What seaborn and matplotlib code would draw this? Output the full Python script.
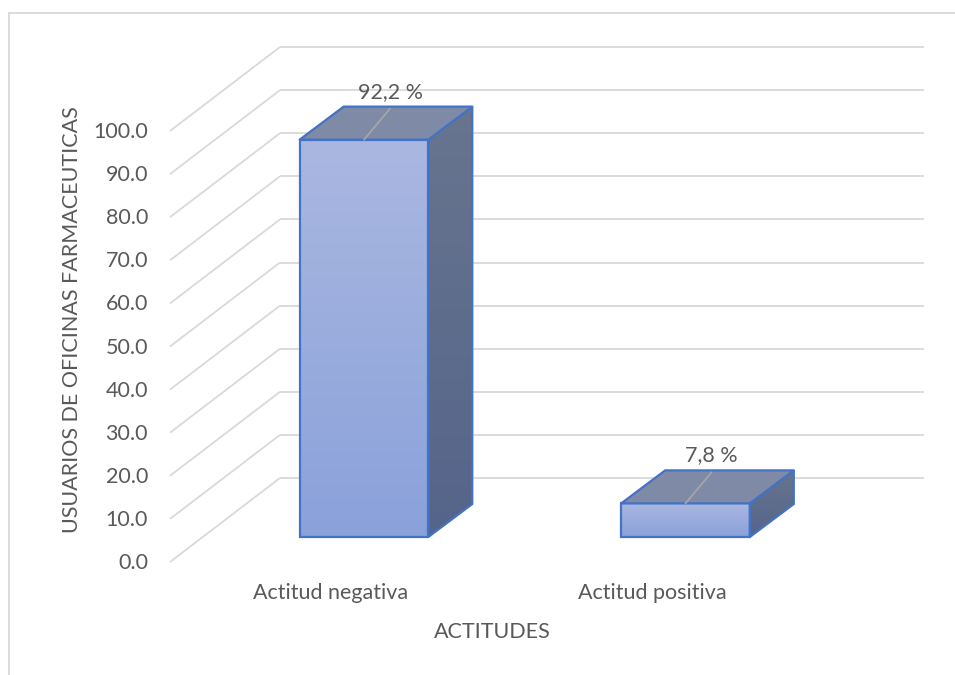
import numpy as np
import pandas as pd
import matplotlib
matplotlib.use("Agg")
import matplotlib.pyplot as plt
import seaborn as sns
from matplotlib.patches import Polygon
from matplotlib.colors import LinearSegmentedColormap

# ---- data ----
categories = ["Actitud negativa", "Actitud positiva"]
values = [92.2, 7.8]
value_labels = ["92,2 %", "7,8 %"]
y_ticks = [0, 10, 20, 30, 40, 50, 60, 70, 80, 90, 100]
y_tick_labels = ["0.0", "10.0", "20.0", "30.0", "40.0", "50.0", "60.0",
                 "70.0", "80.0", "90.0", "100.0"]
x_title = "ACTITUDES"
y_title = "USUARIOS DE OFICINAS FARMACEUTICAS"

# ---- style / layout ----
W, H = 955, 675
PX0, PXS = 364.0, 321.5     # pixel of category 0, pixels per category
PY0, PYS = 537.0, 4.31      # pixel of value 0 (front plane), pixels per unit
DX, DY = 44 / PXS, 33 / PYS               # bar depth
WALL_DX, WALL_DY = 76 / PXS, 59 / PYS     # back wall offset from front plane
WALL_RIGHT = (924 - PX0) / PXS
FLOOR_DX, FLOOR_DY = -110 / PXS, -84 / PYS  # from back wall to front edge
TEXT = "#595959"
GRID = "#D9D9D9"
EDGE = "#4472C4"
FONT = "Lato"

sns.set_theme(style="white")
plt.rcParams["font.family"] = [FONT, "DejaVu Sans"]

fig = plt.figure(figsize=(W / 100, H / 100), dpi=100)
ax = fig.add_axes([0, 0, 1, 1])

df = pd.DataFrame({"cat": categories, "val": values})
sns.barplot(data=df, x="cat", y="val", ax=ax, width=0.40, color="#9AAEDD",
            edgecolor=EDGE, linewidth=1.6, zorder=4)

ax.set_xlim(-PX0 / PXS, (W - PX0) / PXS)
ax.set_ylim((PY0 - H) / PYS, PY0 / PYS)
ax.axis("off")

# ---- back wall + side wall grid lines ----
bx = -0.5 + (0.5 - 0.2 - 0.0)  # placeholder overwritten below
bx = (280 - PX0) / PXS
for t, lab in zip(y_ticks, y_tick_labels):
    yb = t + WALL_DY
    ax.plot([bx, WALL_RIGHT], [yb, yb], color=GRID, lw=1.3, zorder=1,
            solid_capstyle="butt")
    ax.plot([bx + FLOOR_DX, bx], [yb + FLOOR_DY, yb], color=GRID, lw=1.3,
            zorder=1, solid_capstyle="butt")
    ax.text(bx + FLOOR_DX - 22 / PXS, yb + FLOOR_DY - 1.0 / PYS, lab,
            ha="right", va="center", fontsize=15.5, color=TEXT)

# ---- 3D bar faces ----
front_cmap = LinearSegmentedColormap.from_list("f", ["#8AA1DA", "#AAB8E1"])
side_cmap = LinearSegmentedColormap.from_list("s", ["#55648A", "#68758F"])
grad = np.linspace(0, 1, 256).reshape(-1, 1)

bars = list(ax.patches)
for p, lab, cat in zip(bars, value_labels, categories):
    x0, w, h = p.get_x(), p.get_width(), p.get_height()
    p.set_facecolor("none")
    # front gradient
    im = ax.imshow(grad, cmap=front_cmap, origin="lower", aspect="auto",
                   extent=[x0, x0 + w, 0, h], zorder=3)
    im.set_clip_path(p)
    # side face
    side = Polygon([(x0 + w, 0), (x0 + w + DX, DY), (x0 + w + DX, h + DY),
                    (x0 + w, h)], closed=True, facecolor="none",
                   edgecolor=EDGE, lw=1.6, zorder=4)
    ax.add_patch(side)
    ims = ax.imshow(grad, cmap=side_cmap, origin="lower", aspect="auto",
                    extent=[x0 + w, x0 + w + DX, 0, h + DY], zorder=3)
    ims.set_clip_path(side)
    # top face
    top = Polygon([(x0, h), (x0 + w, h), (x0 + w + DX, h + DY),
                   (x0 + DX, h + DY)], closed=True, facecolor="#7F8AA7",
                  edgecolor=EDGE, lw=1.6, zorder=5, joinstyle="round")
    ax.add_patch(top)
    # label with leader line
    cx = x0 + w / 2
    ax.plot([cx, cx + 26 / PXS], [h, h + 31 / PYS], color="#A6A6A6", lw=1.3,
            zorder=6)
    ax.text(cx + 26 / PXS, h + 48 / PYS, lab, ha="center", va="center",
            fontsize=15.5, color=TEXT, zorder=7)
    # category label
    ax.text(cx - 33 / PXS, (PY0 - 593) / PYS, cat, ha="center", va="center",
            fontsize=15.5, color=TEXT)

# ---- axis titles ----
fig.text(492 / W, 1 - 632 / H, x_title, ha="center", va="center",
         fontsize=15.5, color=TEXT)
fig.text(72 / W, 1 - 320 / H, y_title, ha="center", va="center",
         rotation=90, fontsize=15.5, color=TEXT)

# ---- chart border ----
fig.add_artist(plt.Line2D([9 / W, 1], [1 - 13 / H, 1 - 13 / H],
                          transform=fig.transFigure, color=GRID, lw=1.3))
fig.add_artist(plt.Line2D([9 / W, 9 / W], [0, 1 - 13 / H],
                          transform=fig.transFigure, color=GRID, lw=1.3))

fig.savefig("out.png", dpi=100)
